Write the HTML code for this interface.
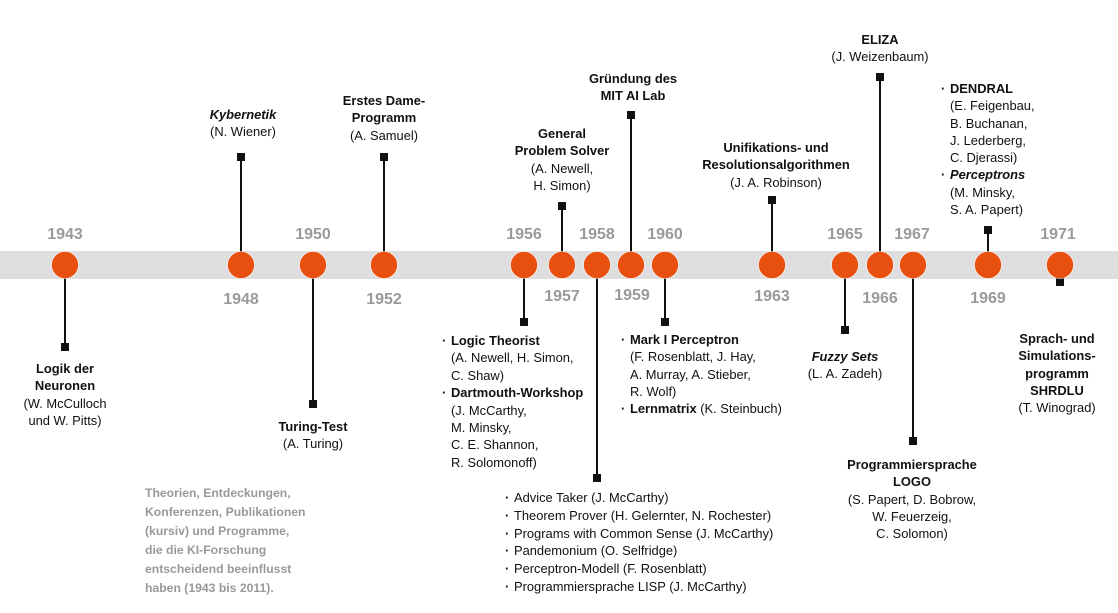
<!DOCTYPE html>
<html><head><meta charset="utf-8"><style>
body{margin:0;width:1118px;height:613px;background:#fff;position:relative;overflow:hidden;font-family:"Liberation Sans",Arial,sans-serif;color:#111}
.t{position:absolute;font-size:12.9px;line-height:17.3px;white-space:nowrap}
.c{transform:translateX(-50%);text-align:center}
b{font-weight:bold}
.y{position:absolute;font-size:16px;font-weight:bold;color:#9a9a9a;transform:translateX(-50%);line-height:18px}
.cap{position:absolute;left:145px;top:484px;font-size:12.2px;line-height:19px;color:#999;font-weight:bold;white-space:nowrap}
.bl{position:relative}
.bl::before{content:"·";position:absolute;left:-9px;font-weight:bold}
</style></head><body>
<svg width="1118" height="613" style="position:absolute;left:0;top:0">
<rect x="0" y="251" width="1118" height="28" fill="#dedede"/>
<g stroke="#111" stroke-width="2">
<line x1="65" y1="278" x2="65" y2="347"/>
<line x1="241" y1="252" x2="241" y2="157"/>
<line x1="313" y1="278" x2="313" y2="404"/>
<line x1="384" y1="252" x2="384" y2="157"/>
<line x1="524" y1="278" x2="524" y2="322"/>
<line x1="562" y1="252" x2="562" y2="206"/>
<line x1="597" y1="278" x2="597" y2="478"/>
<line x1="631" y1="252" x2="631" y2="115"/>
<line x1="665" y1="278" x2="665" y2="322"/>
<line x1="772" y1="252" x2="772" y2="200"/>
<line x1="845" y1="278" x2="845" y2="330"/>
<line x1="880" y1="252" x2="880" y2="77"/>
<line x1="913" y1="278" x2="913" y2="441"/>
<line x1="988" y1="252" x2="988" y2="230"/>
<line x1="1060" y1="278" x2="1060" y2="282"/>
</g>
<g fill="#111">
<rect x="61" y="343" width="8" height="8"/>
<rect x="237" y="153" width="8" height="8"/>
<rect x="309" y="400" width="8" height="8"/>
<rect x="380" y="153" width="8" height="8"/>
<rect x="520" y="318" width="8" height="8"/>
<rect x="558" y="202" width="8" height="8"/>
<rect x="593" y="474" width="8" height="8"/>
<rect x="627" y="111" width="8" height="8"/>
<rect x="661" y="318" width="8" height="8"/>
<rect x="768" y="196" width="8" height="8"/>
<rect x="841" y="326" width="8" height="8"/>
<rect x="876" y="73" width="8" height="8"/>
<rect x="909" y="437" width="8" height="8"/>
<rect x="984" y="226" width="8" height="8"/>
<rect x="1056" y="278" width="8" height="8"/>
</g>
<g fill="#e8500f" stroke="#fff" stroke-width="0.6">
<circle cx="65" cy="265" r="13.5"/><circle cx="241" cy="265" r="13.5"/><circle cx="313" cy="265" r="13.5"/><circle cx="384" cy="265" r="13.5"/>
<circle cx="524" cy="265" r="13.5"/><circle cx="562" cy="265" r="13.5"/><circle cx="597" cy="265" r="13.5"/><circle cx="631" cy="265" r="13.5"/>
<circle cx="665" cy="265" r="13.5"/><circle cx="772" cy="265" r="13.5"/><circle cx="845" cy="265" r="13.5"/><circle cx="880" cy="265" r="13.5"/>
<circle cx="913" cy="265" r="13.5"/><circle cx="988" cy="265" r="13.5"/><circle cx="1060" cy="265" r="13.5"/>
</g>
</svg>
<div class="y" style="left:65px;top:226px">1943</div>
<div class="y" style="left:313px;top:226px">1950</div>
<div class="y" style="left:524px;top:226px">1956</div>
<div class="y" style="left:597px;top:226px">1958</div>
<div class="y" style="left:665px;top:226px">1960</div>
<div class="y" style="left:845px;top:226px">1965</div>
<div class="y" style="left:912px;top:226px">1967</div>
<div class="y" style="left:1058px;top:226px">1971</div>
<div class="y" style="left:241px;top:291px">1948</div>
<div class="y" style="left:384px;top:291px">1952</div>
<div class="y" style="left:562px;top:288px">1957</div>
<div class="y" style="left:632px;top:287px">1959</div>
<div class="y" style="left:772px;top:288px">1963</div>
<div class="y" style="left:880px;top:290px">1966</div>
<div class="y" style="left:988px;top:290px">1969</div>

<div class="t c" style="left:65px;top:360px"><b>Logik der</b><br><b>Neuronen</b><br>(W. McCulloch<br>und W. Pitts)</div>
<div class="t c" style="left:243px;top:106px"><b><i>Kybernetik</i></b><br>(N. Wiener)</div>
<div class="t c" style="left:313px;top:418px"><b>Turing-Test</b><br>(A. Turing)</div>
<div class="t c" style="left:384px;top:92px"><b>Erstes Dame-</b><br><b>Programm</b><br>(A. Samuel)</div>
<div class="t" style="left:451px;top:332px;line-height:17.4px"><span class="bl"><b>Logic Theorist</b></span><br>(A. Newell, H. Simon,<br>C. Shaw)<br><span class="bl"><b>Dartmouth-Workshop</b></span><br>(J. McCarthy,<br>M. Minsky,<br>C. E. Shannon,<br>R. Solomonoff)</div>
<div class="t c" style="left:562px;top:125px"><b>General</b><br><b>Problem Solver</b><br>(A. Newell,<br>H. Simon)</div>
<div class="t" style="left:514px;top:489px;line-height:17.8px"><span class="bl">Advice Taker (J. McCarthy)</span><br><span class="bl">Theorem Prover (H. Gelernter, N. Rochester)</span><br><span class="bl">Programs with Common Sense (J. McCarthy)</span><br><span class="bl">Pandemonium (O. Selfridge)</span><br><span class="bl">Perceptron-Modell (F. Rosenblatt)</span><br><span class="bl">Programmiersprache LISP (J. McCarthy)</span></div>
<div class="t c" style="left:633px;top:70px"><b>Gründung des</b><br><b>MIT AI Lab</b></div>
<div class="t" style="left:630px;top:331px"><span class="bl"><b>Mark I Perceptron</b></span><br>(F. Rosenblatt, J. Hay,<br>A. Murray, A. Stieber,<br>R. Wolf)<br><span class="bl"><b>Lernmatrix</b> (K. Steinbuch)</span></div>
<div class="t c" style="left:776px;top:139px"><b>Unifikations- und</b><br><b>Resolutionsalgorithmen</b><br>(J. A. Robinson)</div>
<div class="t c" style="left:845px;top:348px"><b><i>Fuzzy Sets</i></b><br>(L. A. Zadeh)</div>
<div class="t c" style="left:880px;top:31px"><b>ELIZA</b><br>(J. Weizenbaum)</div>
<div class="t c" style="left:912px;top:456px"><b>Programmiersprache</b><br><b>LOGO</b><br>(S. Papert, D. Bobrow,<br>W. Feuerzeig,<br>C. Solomon)</div>
<div class="t" style="left:950px;top:80px"><span class="bl"><b>DENDRAL</b></span><br>(E. Feigenbau,<br>B. Buchanan,<br>J. Lederberg,<br>C. Djerassi)<br><span class="bl"><b><i>Perceptrons</i></b></span><br>(M. Minsky,<br>S. A. Papert)</div>
<div class="t c" style="left:1057px;top:330px"><b>Sprach- und</b><br><b>Simulations-</b><br><b>programm</b><br><b>SHRDLU</b><br>(T. Winograd)</div>
<div class="cap">Theorien, Entdeckungen,<br>Konferenzen, Publikationen<br>(kursiv) und Programme,<br>die die KI-Forschung<br>entscheidend beeinflusst<br>haben (1943 bis 2011).</div>
</body></html>
